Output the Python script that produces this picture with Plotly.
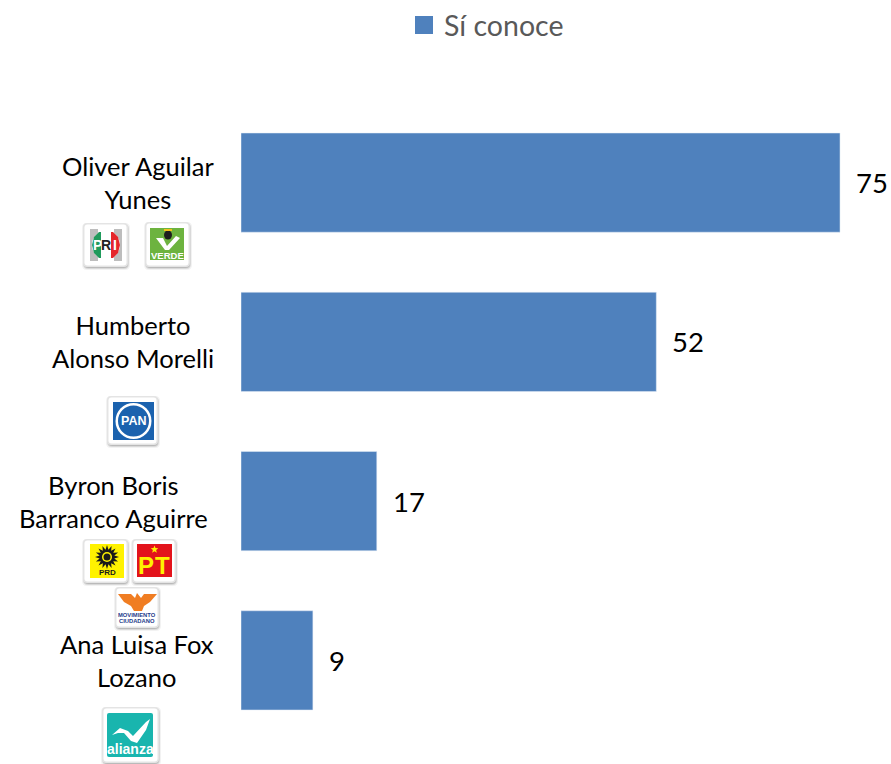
import math
import plotly.graph_objects as go

candidates = ["Oliver Aguilar<br>Yunes", "Humberto<br>Alonso Morelli",
              "Byron Boris<br>Barranco Aguirre", "Ana Luisa Fox<br>Lozano"]
values = [75, 52, 17, 9]
label_shifts = [-24.5, -25, -31, -25]
series_name = "Sí conoce"

BLUE = "#4F81BD"
FONT = "Lato"
L, T, W, H = 241, 103, 650, 637

def px(x): return (x - L) / W
def py(y): return (T + H - y) / H

shapes, notes = [], []

def rect(x0, y0, x1, y1, fill, opacity=1, r=0):
    a, b, c, d = px(x0), py(y0), px(x1), py(y1)
    if r:
        rx, ry = r / W, r / H
        path = (f"M{a+rx},{b} L{c-rx},{b} Q{c},{b} {c},{b-ry} L{c},{d+ry} Q{c},{d} {c-rx},{d} "
                f"L{a+rx},{d} Q{a},{d} {a},{d+ry} L{a},{b-ry} Q{a},{b} {a+rx},{b} Z")
        shapes.append(dict(type="path", path=path, xref="paper", yref="paper", fillcolor=fill,
                           opacity=opacity, line=dict(width=0), layer="above"))
    else:
        shapes.append(dict(type="rect", x0=a, y0=b, x1=c, y1=d, xref="paper", yref="paper",
                           fillcolor=fill, opacity=opacity, line=dict(width=0), layer="above"))

def ellipse(cx, cy, rx, ry, fill):
    shapes.append(dict(type="circle", x0=px(cx - rx), x1=px(cx + rx), y0=py(cy + ry), y1=py(cy - ry),
                       xref="paper", yref="paper", fillcolor=fill, line=dict(width=0), layer="above"))

def poly(points, fill, close=True, line=None, lw=0):
    path = "M" + " L".join(f"{px(x)},{py(y)}" for x, y in points) + (" Z" if close else "")
    shapes.append(dict(type="path", path=path, xref="paper", yref="paper",
                       fillcolor=fill if close else "rgba(0,0,0,0)",
                       line=dict(width=lw, color=line or fill), layer="above"))

def small(x, y, text, size, color, font="Liberation Sans", bold=True):
    t = f"<b>{text}</b>" if bold else text
    notes.append(dict(xref="paper", yref="paper", x=px(x), y=py(y), text=t, showarrow=False,
                      xanchor="center", yanchor="middle", borderpad=0,
                      font=dict(family=font, size=size, color=color)))

def tile(x0, y0, x1, y1):
    rect(x0 - 1, y0, x1 + 2, y1 + 3, "#000000", 0.05, 5)
    rect(x0, y0 + 1, x1 + 1, y1 + 2, "#000000", 0.10, 5)
    rect(x0 + 1, y0 + 1, x1, y1 + 1, "#000000", 0.14, 4)
    rect(x0, y0, x1, y1, "#E4E4E4", 1, 4)
    rect(x0 + 1.5, y0 + 1.5, x1 - 1.5, y1 - 1.5, "#FFFFFF", 1, 3)

# PRI
tile(83, 223, 128, 267)
rect(90, 229, 122, 261, "#BDBDBD")
rect(98, 229, 114, 261, "#FFFFFF")
ellipse(106, 245, 14, 14, "#FFFFFF")
poly([(92, 245), (94, 237), (99, 232), (101, 232), (101, 258), (99, 258), (94, 253)], "#1F9A5B")
poly([(120, 245), (118, 237), (113, 232), (111, 232), (111, 258), (113, 258), (118, 253)], "#E5262B")
small(97, 245, "P", 14, "#FFFFFF")
small(106, 245, "R", 14, "#222222")
small(115, 245, "I", 14, "#FFFFFF")

# VERDE
tile(145, 222, 190, 267)
rect(150, 228, 184, 260, "#6DB33F")
poly([(156, 238), (163, 238), (167, 246), (176, 236), (180, 238), (169, 250), (165, 250)], "#FFFFFF")
ellipse(168, 235, 4, 4.5, "#1E1E1E")
rect(164, 229, 172, 231, "#F3C21B")
small(167, 255, "VERDE", 9.5, "#FFFFFF")

# PAN
tile(107, 396, 158, 445)
rect(113, 402, 154, 440, "#1B62AE")
ellipse(133.5, 421, 18, 18, "#FFFFFF")
ellipse(133.5, 421, 15.5, 15.5, "#1B62AE")
small(133.5, 421, "PAN", 12.5, "#FFFFFF")

# PRD
tile(83, 539, 128, 583)
rect(90, 544, 124, 578, "#FFF200")
sun = []
for i in range(32):
    ang = math.pi * i / 16
    r = 12 if i % 2 == 0 else 7.5
    sun.append((107 + r * math.cos(ang), 557 + r * math.sin(ang)))
poly(sun, "#1A1A1A")
ellipse(107, 557, 5, 5, "#FFF200")
ellipse(107, 557, 3.5, 3.5, "#1A1A1A")
small(107, 572, "PRD", 8, "#1A1A1A")

# PT
tile(132, 539, 176, 583)
rect(137, 544, 172, 577, "#E3131B")
small(145.5, 565, "P", 24, "#FFF200")
small(162.5, 565, "T", 24, "#FFF200")
star = []
for i in range(10):
    ang = -math.pi / 2 + math.pi * i / 5
    r = 4 if i % 2 == 0 else 1.7
    star.append((154.5 + r * math.cos(ang), 549.5 + r * math.sin(ang)))
poly(star, "#FFF200")

# Movimiento Ciudadano
tile(115, 587, 159, 628)
rect(118, 590, 156, 625, "#FFFFFF")
poly([(118, 594), (131, 594), (135, 598), (137, 593), (141, 598), (144, 594), (157, 594),
      (150, 602), (144, 606), (142, 611), (134, 611), (131, 606), (124, 602)], "#F07D22")
small(137, 614.5, "MOVIMIENTO", 5.8, "#1F3C8B")
small(137, 620.5, "CIUDADANO", 5.8, "#1F3C8B")

# Nueva Alianza
tile(102, 707, 159, 763)
rect(107, 713, 153, 757, "#19B5AE", 1, 2)
poly([(112, 735), (120, 728), (128, 731), (133, 736), (146, 722), (150, 719), (146, 730),
      (137, 743), (131, 741), (124, 733), (118, 733)], "#FFFFFF")
small(130, 749, "alianza", 14, "#FFFFFF")

for name, shift in zip(candidates, label_shifts):
    notes.append(dict(xref="x", yref="y", x=0, y=name, text=name, showarrow=False, xanchor="right",
                      yanchor="middle", align="center", xshift=shift,
                      font=dict(family=FONT, size=25.5, color="#000000")))
for name, v in zip(candidates, values):
    notes.append(dict(xref="x", yref="y", x=v, y=name, text=str(v), showarrow=False, xanchor="left",
                      yanchor="middle", xshift=14,
                      font=dict(family=FONT, size=27.5, color="#000000")))

fig = go.Figure()
fig.add_trace(go.Bar(x=values, y=candidates, orientation="h", marker_color=BLUE, showlegend=False))
fig.add_trace(go.Scatter(x=[None], y=[None], mode="markers", name=series_name,
                         marker=dict(symbol="square", size=16, color=BLUE, line=dict(width=2, color=BLUE))))
fig.update_layout(
    width=891, height=764, autosize=False,
    margin=dict(l=L, r=0, t=T, b=764 - T - H, pad=0),
    paper_bgcolor="#FFFFFF", plot_bgcolor="#FFFFFF",
    bargap=0.377,
    showlegend=True,
    legend=dict(x=px(404), y=py(25), xanchor="left", yanchor="middle", orientation="h",
                font=dict(family=FONT, size=28.5, color="#595959"), bgcolor="rgba(0,0,0,0)"),
    xaxis=dict(range=[0, W / 7.987], visible=False),
    yaxis=dict(type="category", categoryorder="array", categoryarray=candidates,
               range=[3.5, -0.5], visible=False),
    shapes=shapes, annotations=notes,
)
fig.write_html("out.html", config={"displayModeBar": False},
               post_script="document.body.style.margin='0';document.body.style.overflow='hidden';")
